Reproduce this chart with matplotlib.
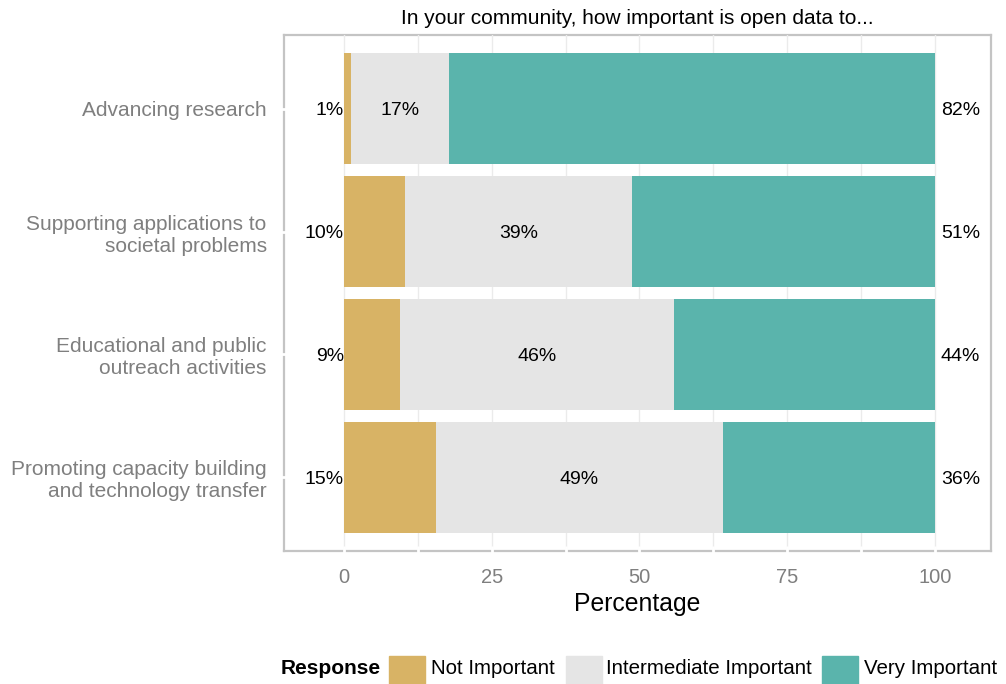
import matplotlib.pyplot as plt
from matplotlib.patches import Rectangle
import numpy as np

plt.rcParams["font.family"] = ["Liberation Sans", "DejaVu Sans"]

categories = [
    "Advancing research",
    "Supporting applications to\nsocietal problems",
    "Educational and public\noutreach activities",
    "Promoting capacity building\nand technology transfer",
]
not_important = [1.2, 10.3, 9.5, 15.6]
intermediate = [16.6, 38.4, 46.3, 48.5]
very_important = [82.2, 51.3, 44.2, 35.9]
low_labels = ["1%", "10%", "9%", "15%"]
mid_labels = ["17%", "39%", "46%", "49%"]
high_labels = ["82%", "51%", "44%", "36%"]
responses = ["Not Important", "Intermediate Important", "Very Important"]
colors = ["#D8B365", "#E5E5E5", "#5AB4AC"]

W, H = 1006, 684
fig = plt.figure(figsize=(W / 100, H / 100), dpi=100)
ax = fig.add_axes([284 / W, 1 - 551 / H, (991 - 284) / W, (551 - 35) / H])

y = np.arange(len(categories))
ni = np.array(not_important)
mid = np.array(intermediate)
hi = np.array(very_important)

ax.barh(y, ni, height=0.9, color=colors[0], zorder=2)
ax.barh(y, mid, left=ni, height=0.9, color=colors[1], zorder=2)
ax.barh(y, hi, left=ni + mid, height=0.9, color=colors[2], zorder=2)

for i in range(len(categories)):
    ax.text(0, y[i], low_labels[i], ha="right", va="center_baseline", fontsize=14)
    ax.text(ni[i] + mid[i] / 2, y[i], mid_labels[i], ha="center", va="center_baseline", fontsize=14)
    ax.text(101, y[i], high_labels[i], ha="left", va="center_baseline", fontsize=14)

ax.set_xlim(-10.15, 109.5)
ax.set_ylim(len(categories) - 0.4, -0.6)
ax.set_xticks([0, 25, 50, 75, 100])
ax.set_xticks([12.5, 37.5, 62.5, 87.5], minor=True)
ax.set_yticks(y)
ax.set_yticklabels(categories)
ax.grid(True, which="both", axis="x", color="#EBEBEB", linewidth=1, zorder=0)
ax.set_axisbelow(True)

ax.tick_params(axis="both", which="both", direction="inout", color="white",
               length=7, width=2, labelcolor="#7F7F7F")
ax.tick_params(axis="x", labelsize=14.5, pad=9)
ax.tick_params(axis="y", labelsize=15, pad=9)
for s in ax.spines.values():
    s.set_color("#C4C4C4")
    s.set_linewidth(1.6)
    s.set_zorder(0.5)

ax.set_xlabel("Percentage", fontsize=17.8, labelpad=3)
ax.set_title("In your community, how important is open data to...", fontsize=15, pad=8)

# legend at the bottom
fig.text(281 / W, 1 - 668 / H, "Response", fontsize=15, fontweight="bold", va="center")
key_x = [389, 566, 822]
text_x = [431, 606, 864]
for kx, tx, c, lab in zip(key_x, text_x, colors, responses):
    fig.add_artist(Rectangle((kx / W, 1 - 692 / H), 36 / W, 36 / H,
                             transform=fig.transFigure, color=c))
    fig.text(tx / W, 1 - 668 / H, lab, fontsize=14.8, va="center")

plt.savefig("out.png", dpi=100)
